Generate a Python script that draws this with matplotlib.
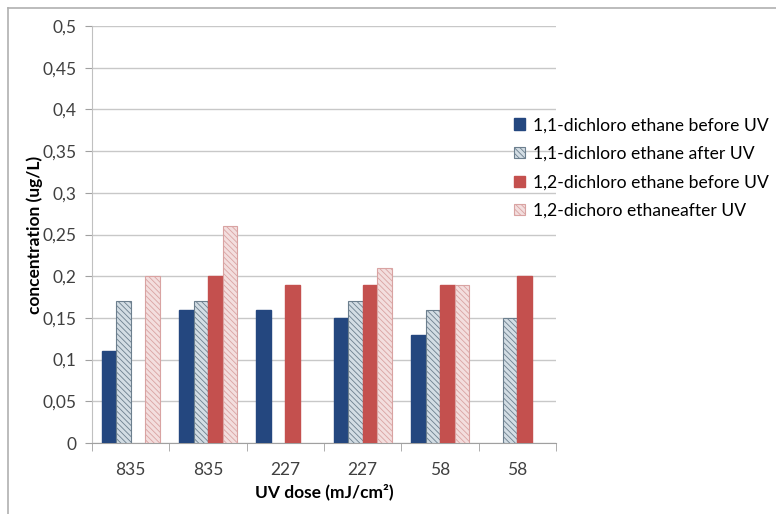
import matplotlib.pyplot as plt
import numpy as np

plt.rcParams['font.family'] = ['Lato', 'DejaVu Sans']
plt.rcParams['hatch.linewidth'] = 0.6

doses = ['835', '835', '227', '227', '58', '58']
dce11_before = [0.11, 0.16, 0.16, 0.15, 0.13, 0.0]
dce11_after = [0.17, 0.17, 0.0, 0.17, 0.16, 0.15]
dce12_before = [0.0, 0.20, 0.19, 0.19, 0.19, 0.20]
dce12_after = [0.20, 0.26, 0.0, 0.21, 0.19, 0.0]

series = [
    ('1,1-dichloro ethane before UV', dce11_before, dict(color='#24477f', edgecolor='#24477f')),
    ('1,1-dichloro ethane after UV', dce11_after, dict(color='#d3dde4', edgecolor='#6c7f8e', hatch='\\\\\\\\\\\\', linewidth=0.8)),
    ('1,2-dichloro ethane before UV', dce12_before, dict(color='#c4504e', edgecolor='#c4504e')),
    ('1,2-dichoro ethaneafter UV', dce12_after, dict(color='#f3dede', edgecolor='#d9a3a2', hatch='\\\\\\\\\\\\', linewidth=0.8)),
]

fig = plt.figure(figsize=(7.76, 5.14), dpi=100)
ax = fig.add_axes([0.1186, 0.1381, 0.5979, 0.8113])

x = np.arange(len(doses))
w = 0.1875
for i, (name, vals, style) in enumerate(series):
    # zero readings are left empty, no bar outline
    h = np.where(np.array(vals) > 0, vals, np.nan)
    ax.bar(x + (i - 1.5) * w, h, w, label=name, zorder=3, **style)

ax.set_xlim(-0.5, len(doses) - 0.5)
ax.set_ylim(0, 0.5)
yt = np.arange(0, 0.51, 0.05)
ax.set_yticks(yt)
ax.set_yticklabels(['0'] + [('%g' % v).replace('.', ',') for v in yt[1:]])
ax.set_xticks(x)
ax.set_xticklabels(doses)
ax.set_xticks(np.arange(-0.5, len(doses), 1), minor=True)
ax.tick_params(axis='x', which='major', length=0, pad=14, labelsize=12.5, colors='#404040')
ax.tick_params(axis='x', which='minor', length=6, color='#a0a0a0')
ax.tick_params(axis='y', length=5, color='#a0a0a0', labelsize=12.5, labelcolor='#404040', pad=6)

ax.yaxis.grid(True, color='#c8c8c8', linewidth=1, zorder=0)
for s in ['top', 'right']:
    ax.spines[s].set_visible(False)
ax.spines['left'].set_color('#c0c0c0')
ax.spines['bottom'].set_color('#a0a0a0')

ax.set_xlabel('UV dose (mJ/cm²)', fontweight='bold', fontsize=12.5, labelpad=4)
ax.set_ylabel('concentration (ug/L)', fontweight='bold', fontsize=12.5, labelpad=0)

fig.legend(loc='upper left', bbox_to_anchor=(0.663, 0.772), frameon=False,
           fontsize=12.6, handlelength=0.6, handleheight=0.6,
           handletextpad=0.45, labelspacing=0.72, borderaxespad=0, borderpad=0)

# thin frame on the top and left edge
fig.add_artist(plt.Line2D([0.0103, 1.0], [0.984, 0.984], color='#b0b0b0', lw=1.2))
fig.add_artist(plt.Line2D([0.0103, 0.0103], [0.0, 0.984], color='#b0b0b0', lw=1.2))

fig.savefig('out.png', dpi=100)
